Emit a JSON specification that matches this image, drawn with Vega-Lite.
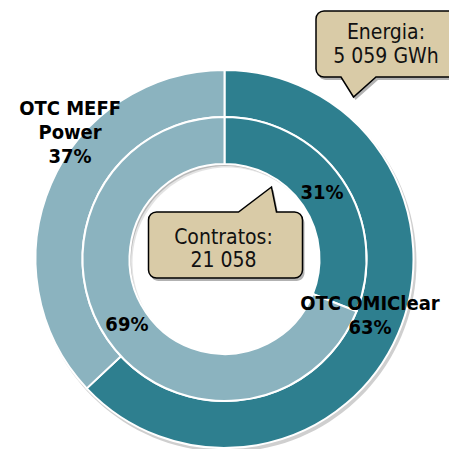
{
  "$schema": "https://vega.github.io/schema/vega-lite/v6.json",
  "width": 449,
  "height": 380,
  "autosize": "none",
  "padding": {"left": 0, "top": 69, "right": 0, "bottom": 0},
  "background": "white",
  "config": {"view": {"stroke": null}},
  "datasets": {
    "shares": [
      {"ring": "Energia", "market": "OTC OMIClear", "ord": 1, "value": 63, "label": "OTC OMIClear\n63%"},
      {"ring": "Energia", "market": "OTC MEFF Power", "ord": 2, "value": 37, "label": "OTC MEFF\nPower\n37%"},
      {"ring": "Contratos", "market": "OTC OMIClear", "ord": 1, "value": 31, "label": "31%"},
      {"ring": "Contratos", "market": "OTC MEFF Power", "ord": 2, "value": 69, "label": "69%"}
    ],
    "callouts": [
      {"name": "Energia", "text": "Energia:\n5 059 GWh"},
      {"name": "Contratos", "text": "Contratos:\n21 058"}
    ]
  },
  "layer": [
    {
      "data": {"name": "callouts"},
      "transform": [{"filter": "datum.name === 'Energia'"}],
      "mark": {"type": "point", "size": 4, "filled": true, "opacity": 1, "fill": "#cfcfcf", "strokeWidth": 0,
        "shape": "M -188 3 A 190 190 0 1 0 192 3 A 190 190 0 1 0 -188 3 Z"},
      "encoding": {}
    },
    {
      "data": {"name": "callouts"},
      "transform": [{"filter": "datum.name === 'Energia'"}],
      "mark": {"type": "point", "size": 4, "filled": true, "opacity": 1, "fill": "#b9b9b9", "strokeWidth": 0,
        "shape": "M -95 0 A 95 95 0 1 0 95 0 A 95 95 0 1 0 -95 0 Z"},
      "encoding": {}
    },
    {
      "data": {"name": "callouts"},
      "transform": [{"filter": "datum.name === 'Energia'"}],
      "mark": {"type": "point", "size": 4, "filled": true, "opacity": 0.6, "fill": "#ffffff", "strokeWidth": 0,
        "shape": "M -93.5 2 A 95 95 0 1 0 96.5 2 A 95 95 0 1 0 -93.5 2 Z"},
      "encoding": {}
    },
    {
      "data": {"name": "callouts"},
      "transform": [{"filter": "datum.name === 'Energia'"}],
      "mark": {"type": "point", "size": 4, "filled": true, "opacity": 1, "fill": "#ffffff", "strokeWidth": 0,
        "shape": "M -92 3.5 A 95 95 0 1 0 98 3.5 A 95 95 0 1 0 -92 3.5 Z"},
      "encoding": {}
    },
    {
      "data": {"name": "shares"},
      "transform": [{"filter": "datum.ring === 'Energia'"}],
      "mark": {"type": "arc", "radius": 189, "radius2": 142, "stroke": "white", "strokeWidth": 2},
      "encoding": {
        "theta": {"field": "value", "type": "quantitative", "stack": true},
        "order": {"field": "ord", "type": "quantitative"},
        "color": {"field": "market", "type": "nominal", "legend": null,
          "scale": {"domain": ["OTC OMIClear", "OTC MEFF Power"], "range": ["#2e7f8f", "#8bb3bf"]}}
      }
    },
    {
      "data": {"name": "shares"},
      "transform": [{"filter": "datum.ring === 'Contratos'"}],
      "mark": {"type": "arc", "radius": 142, "radius2": 95, "stroke": "white", "strokeWidth": 2},
      "encoding": {
        "theta": {"field": "value", "type": "quantitative", "stack": true},
        "order": {"field": "ord", "type": "quantitative"},
        "color": {"field": "market", "type": "nominal", "legend": null}
      }
    },
    {
      "data": {"name": "shares"},
      "transform": [{"filter": "datum.ring === 'Contratos'"}],
      "mark": {"type": "text", "radius": 118, "font": "DejaVu Sans Condensed, Liberation Sans", "fontWeight": "bold", "fontSize": 20, "color": "#000", "align": "center", "baseline": "middle"},
      "encoding": {
        "theta": {"field": "value", "type": "quantitative", "stack": true},
        "order": {"field": "ord", "type": "quantitative"},
        "text": {"field": "label"}
      }
    },
    {
      "data": {"name": "shares"},
      "transform": [{"filter": "datum.ring === 'Energia' && datum.ord === 1"}],
      "mark": {"type": "text", "radius": 165, "dx": -6, "dy": -15, "lineBreak": "\n", "lineHeight": 24, "font": "DejaVu Sans Condensed, Liberation Sans", "fontWeight": "bold", "fontSize": 20, "color": "#000", "align": "center", "baseline": "alphabetic"},
      "encoding": {
        "theta": {"datum": 31.5, "type": "quantitative"},
        "text": {"field": "label"}
      }
    },
    {
      "data": {"name": "shares"},
      "transform": [{"filter": "datum.ring === 'Energia' && datum.ord === 2"}],
      "mark": {"type": "text", "radius": 165, "dx": -3, "dy": -78, "lineBreak": "\n", "lineHeight": 24, "font": "DejaVu Sans Condensed, Liberation Sans", "fontWeight": "bold", "fontSize": 20, "color": "#000", "align": "center", "baseline": "alphabetic"},
      "encoding": {
        "theta": {"datum": 81.5, "type": "quantitative"},
        "text": {"field": "label"}
      }
    },
    {
      "data": {"name": "callouts"},
      "transform": [{"filter": "datum.name === 'Energia'"}],
      "mark": {"type": "point", "size": 4, "filled": true, "opacity": 0.3, "fill": "#000", "strokeWidth": 0,
        "shape": "M 101.5 -245 L 242 -245 L 242 -179 L 153.5 -179 L 131 -159 L 118.5 -179 L 101.5 -179 A 8 8 0 0 1 93.5 -187 L 93.5 -237 A 8 8 0 0 1 101.5 -245 Z"},
      "encoding": {}
    },
    {
      "data": {"name": "callouts"},
      "transform": [{"filter": "datum.name === 'Energia'"}],
      "mark": {"type": "point", "size": 4, "filled": true, "opacity": 1, "fill": "#d9cba7", "stroke": "#000", "strokeWidth": 1.5,
        "shape": "M 99.5 -248 L 240 -248 L 240 -182 L 151.5 -182 L 129 -162 L 116.5 -182 L 99.5 -182 A 8 8 0 0 1 91.5 -190 L 91.5 -240 A 8 8 0 0 1 99.5 -248 Z"},
      "encoding": {}
    },
    {
      "data": {"name": "callouts"},
      "transform": [{"filter": "datum.name === 'Contratos'"}],
      "mark": {"type": "point", "size": 4, "filled": true, "opacity": 0.3, "fill": "#000", "strokeWidth": 0,
        "shape": "M -66 -44 L 16 -44 L 49 -69 L 54 -44 L 72 -44 A 8 8 0 0 1 80 -36 L 80 14 A 8 8 0 0 1 72 22 L -66 22 A 8 8 0 0 1 -74 14 L -74 -36 A 8 8 0 0 1 -66 -44 Z"},
      "encoding": {}
    },
    {
      "data": {"name": "callouts"},
      "transform": [{"filter": "datum.name === 'Contratos'"}],
      "mark": {"type": "point", "size": 4, "filled": true, "opacity": 1, "fill": "#d9cba7", "stroke": "#000", "strokeWidth": 1.5,
        "shape": "M -68 -47 L 14 -47 L 47 -72 L 52 -47 L 70 -47 A 8 8 0 0 1 78 -39 L 78 11 A 8 8 0 0 1 70 19 L -68 19 A 8 8 0 0 1 -76 11 L -76 -39 A 8 8 0 0 1 -68 -47 Z"},
      "encoding": {}
    },
    {
      "data": {"name": "callouts"},
      "transform": [{"filter": "datum.name === 'Energia'"}],
      "mark": {"type": "text", "dx": 161.5, "dy": -220, "lineBreak": "\n", "lineHeight": 24, "font": "DejaVu Sans Condensed, Liberation Sans", "fontSize": 21, "color": "#111", "align": "center", "baseline": "alphabetic"},
      "encoding": {"text": {"field": "text"}}
    },
    {
      "data": {"name": "callouts"},
      "transform": [{"filter": "datum.name === 'Contratos'"}],
      "mark": {"type": "text", "dx": -1, "dy": -15, "lineBreak": "\n", "lineHeight": 23, "font": "DejaVu Sans Condensed, Liberation Sans", "fontSize": 21, "color": "#111", "align": "center", "baseline": "alphabetic"},
      "encoding": {"text": {"field": "text"}}
    }
  ]
}
